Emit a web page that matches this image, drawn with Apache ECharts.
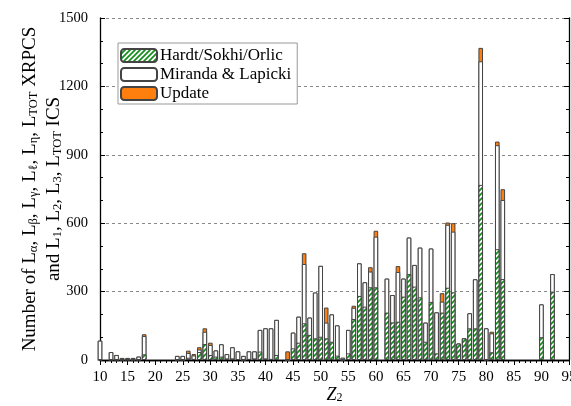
<!DOCTYPE html>
<html><head><meta charset="utf-8">
<script src="https://cdn.jsdelivr.net/npm/echarts@6/dist/echarts.min.js"></script>
<style>html,body{margin:0;padding:0;background:#fff}#c{width:571px;height:406px}</style>
</head><body><div id="c"></div>
<script>
const zValues = [10,12,13,14,15,16,17,18,24,25,26,27,28,29,30,31,32,33,34,35,36,37,38,39,40,41,42,44,45,46,47,48,49,50,51,52,53,54,55,56,57,58,59,60,62,63,64,65,66,67,68,69,70,71,72,73,74,75,76,77,78,79,80,81,82,83,90,92];
const hardt = [0,0,0,0,0,0,0,25,0,0,10,5,35,70,22,15,15,7,7,4,0,5,7,37,7,5,22,0,51,76,161,110,95,102,95,80,19,0,29,180,281,234,319,319,208,165,168,278,377,322,275,80,255,29,208,317,297,72,95,139,139,768,0,34,486,355,100,300];
const mirandaTop = [85,35,22,9,9,9,15,105,18,18,31,20,46,124,66,42,69,26,56,38,18,38,38,132,139,139,176,0,120,190,421,186,296,413,164,200,152,10,132,229,424,341,388,541,357,285,386,357,537,417,493,164,489,209,256,593,563,72,95,205,354,1310,139,117,942,702,244,377];
const updateZ = [18,26,27,28,29,30,44,47,51,56,59,60,64,72,73,74,79,81,82,83];
const updateV = [8,10,6,10,15,10,38,47,66,9,19,26,26,37,10,37,59,7,16,47];
const yTicks = [0,300,600,900,1200,1500];

// cumulative tops: green, green+white, green+white+orange (drawn overlapping, back to front)
const updTop = zValues.map((z,i)=>{const k=updateZ.indexOf(z);return mirandaTop[i]+(k>=0?updateV[k]:0);});

function hatch(){
  const c=document.createElement('canvas');c.width=5;c.height=5;
  const g=c.getContext('2d');g.fillStyle='#fff';g.fillRect(0,0,5,5);
  g.strokeStyle='#12901a';g.lineWidth=1.7;g.beginPath();
  g.moveTo(-1,6);g.lineTo(6,-1);g.moveTo(-3.5,3.5);g.lineTo(3.5,-3.5);g.moveTo(1.5,8.5);g.lineTo(8.5,1.5);
  g.stroke();return c;
}
const FF='Liberation Serif';
const chart=echarts.init(document.getElementById('c'),null,{renderer:'canvas'});
const bw=4.6, border='#444';
const mk=(name,vals,color)=>({name,type:'bar',barWidth:bw,barGap:'-100%',xAxisIndex:0,yAxisIndex:0,
  data:zValues.map((z,i)=>[z,vals[i]]),
  itemStyle:{color,borderColor:border,borderWidth:1},emphasis:{disabled:true},animation:false});
const tickStyle={color:'#000',width:1};
const ax=(inside,split)=>({axisLine:{show:true,lineStyle:{color:'#000',width:1.3}},
  axisTick:{show:true,inside,length:5,lineStyle:tickStyle},
  minorTick:{show:true,splitNumber:split,length:3,lineStyle:tickStyle}});
chart.setOption({
  animation:false,
  grid:{left:100,right:2,top:18,bottom:46,containLabel:false,outerBoundsMode:'none'},
  legend:{orient:'vertical',left:118,top:43,itemWidth:36,itemHeight:13,itemGap:2,
    padding:[4,6,2,2],borderColor:'#999',borderWidth:1,backgroundColor:'#fff',
    textStyle:{fontFamily:FF,fontSize:17,color:'#000',padding:[0,0,0,-2]},selectedMode:false,
    data:['Hardt/Sokhi/Orlic','Miranda & Lapicki','Update']},
  xAxis:[Object.assign({type:'value',min:10,max:95,interval:5,position:'bottom',
    splitLine:{show:false},axisLabel:{fontFamily:FF,fontSize:15,color:'#000',margin:10,formatter:v=>String(v)},
    name:'{i|Z}{s|2}',nameLocation:'middle',nameGap:24,nameMoveOverlap:false,
    nameTextStyle:{rich:{i:{fontFamily:FF,fontStyle:'italic',fontSize:18,color:'#000',lineHeight:20,verticalAlign:'bottom'},
      s:{fontFamily:FF,fontSize:12,color:'#000',lineHeight:10,verticalAlign:'bottom'}}}},ax(false,5)),
    Object.assign({type:'value',min:10,max:95,interval:5,position:'top',splitLine:{show:false},axisLabel:{show:false}},ax(true,5))],
  yAxis:[Object.assign({type:'value',min:yTicks[0],max:yTicks[yTicks.length-1],interval:300,position:'left',
    splitLine:{show:true,lineStyle:{type:[3,3],color:'#888',width:1}},
    axisLabel:{fontFamily:FF,fontSize:14.5,color:'#000',margin:12,formatter:v=>String(v)},
    name:'{t|Number of L}{s|α}{t|, L}{s|β}{t|, L}{s|γ}{t|, L}{s|ℓ}{t|, L}{s|η}{t|, L}{s|TOT}{t| XRPCS}\n{t|and L}{s|1}{t|, L}{s|2}{t|, L}{s|3}{t|, L}{s|TOT}{t| ICS}',
    nameLocation:'middle',nameGap:36,nameRotate:90,nameMoveOverlap:false,
    nameTextStyle:{rich:{t:{fontFamily:FF,fontSize:19,color:'#000',lineHeight:24,verticalAlign:'bottom'},
      s:{fontFamily:FF,fontSize:12.5,color:'#000',lineHeight:12,verticalAlign:'bottom'}}}},ax(true,3)),
    Object.assign({type:'value',min:0,max:1500,interval:300,position:'right',splitLine:{show:false},axisLabel:{show:false}},ax(true,3))],
  series:[mk('Update',updTop,'#ff7f0e'),mk('Miranda & Lapicki',mirandaTop,'#fff'),mk('Hardt/Sokhi/Orlic',hardt,{image:hatch(),repeat:'repeat'})]
});
</script></body></html>
